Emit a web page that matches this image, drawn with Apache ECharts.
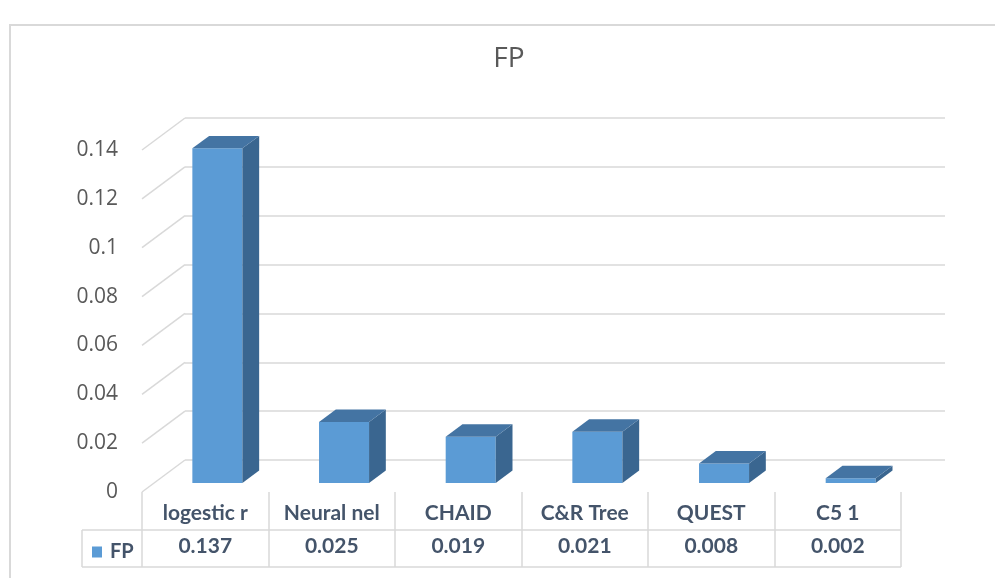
<!DOCTYPE html>
<html><head><meta charset="utf-8">
<script src="https://cdn.jsdelivr.net/npm/echarts@6/dist/echarts.min.js"></script>
<style>html,body{margin:0;padding:0;background:#fff}#c{width:995px;height:578px}</style>
</head><body><div id="c"></div>
<script>
var categories = ['logestic r', 'Neural nel', 'CHAID', 'C&R Tree', 'QUEST', 'C5 1'];
var fpValues = [0.137, 0.025, 0.019, 0.021, 0.008, 0.002];
var yTicks = [0, 0.02, 0.04, 0.06, 0.08, 0.1, 0.12, 0.14];
var seriesName = 'FP';

var DX = 43, DY = 32;          // floor depth vector (back -> front)
var FRONT = 0.72, BACK = 0.33; // bar depth fractions
var chart = echarts.init(document.getElementById('c'));
var tableFont = 'Lato, "Open Sans", sans-serif';

function renderBar(params, api) {
  var i = api.value(0), v = api.value(1);
  var top = api.coord([i, v]), base = api.coord([i, 0]);
  var band = api.size([1, 0])[0];
  var w = band * 0.395;
  var fx = -DX * FRONT, fy = DY * FRONT;
  var sx = DX * (FRONT - BACK), sy = DY * (FRONT - BACK);
  var x0 = top[0] + fx - w / 2, x1 = x0 + w;
  var yt = top[1] + fy, yb = base[1] + fy;
  return {
    type: 'group',
    children: [
      { type: 'rect', shape: { x: x0, y: yt, width: w, height: yb - yt },
        style: { fill: '#5B9BD5' } },
      { type: 'polygon', shape: { points: [[x1, yt], [x1 + sx, yt - sy], [x1 + sx, yb - sy], [x1, yb]] },
        style: { fill: '#3A6690' } },
      { type: 'polygon', shape: { points: [[x0, yt], [x1, yt], [x1 + sx, yt - sy], [x0 + sx, yt - sy]] },
        style: { fill: '#4474A3' } }
    ]
  };
}

function renderSideLine(params, api) {
  var cs = params.coordSys;
  var p = api.coord([0, api.value(1)]);
  return { type: 'line', shape: { x1: cs.x, y1: p[1], x2: cs.x - DX, y2: p[1] + DY },
    style: { stroke: '#D9D9D9', lineWidth: 1.5 } };
}

var option = {
  animation: false,
  backgroundColor: '#fff',
  title: { text: 'FP', left: 504, top: 40, textAlign: 'center',
    textStyle: { fontSize: 28, fontWeight: 'normal', color: '#595959', fontFamily: '"Open Sans", sans-serif' } },
  legend: { data: [seriesName], left: 87, top: 537, icon: 'rect', itemWidth: 10, itemHeight: 11,
    textStyle: { fontSize: 20, fontWeight: 'bold', color: '#44546A', fontFamily: tableFont, padding: [0, 0, 0, 3] } },
  graphic: [
    { type: 'rect', shape: { x: 10, y: 25, width: 1000, height: 600 }, style: { fill: 'none', stroke: '#D9D9D9', lineWidth: 2 }, silent: true },
    { type: 'line', shape: { x1: 82, y1: 530, x2: 901, y2: 530 }, style: { stroke: '#D9D9D9', lineWidth: 1.5 } },
    { type: 'line', shape: { x1: 82, y1: 567, x2: 901, y2: 567 }, style: { stroke: '#D9D9D9', lineWidth: 1.5 } },
    { type: 'line', shape: { x1: 82, y1: 530, x2: 82, y2: 567 }, style: { stroke: '#D9D9D9', lineWidth: 1.5 } }
  ],
  grid: [
    { left: 142, right: 94, top: 150, bottom: 86 },   // front (labels + table)
    { left: 185, right: 50, top: 118, bottom: 118 }   // back wall
  ],
  xAxis: [
    { type: 'category', gridIndex: 0, data: categories,
      axisLine: { show: false },
      axisTick: { show: true, length: 75, lineStyle: { color: '#D9D9D9', width: 1.5 } },
      axisLabel: { margin: 11, fontSize: 21, fontWeight: 'bold', color: '#44546A', fontFamily: tableFont, interval: 0 } },
    { type: 'category', gridIndex: 0, position: 'bottom', offset: 33,
      data: fpValues.map(function (v) { return v.toFixed(3); }),
      axisLine: { show: false }, axisTick: { show: false },
      axisLabel: { margin: 11, fontSize: 21, fontWeight: 'bold', color: '#44546A', fontFamily: tableFont, interval: 0 } },
    { type: 'category', gridIndex: 1, data: categories, show: false }
  ],
  yAxis: [
    { type: 'value', gridIndex: 0, min: 0, max: 0.14, interval: 0.02,
      axisLine: { show: false }, axisTick: { show: false }, splitLine: { show: false },
      axisLabel: { margin: 24, fontSize: 21, color: '#595959', fontFamily: '"Open Sans", sans-serif' } },
    { type: 'value', gridIndex: 1, min: 0, max: 0.14, interval: 0.02,
      axisLine: { show: false }, axisTick: { show: false }, axisLabel: { show: false },
      splitLine: { lineStyle: { color: '#D9D9D9', width: 1.5 } } }
  ],
  series: [
    { type: 'custom', name: 'walls', xAxisIndex: 2, yAxisIndex: 1, silent: true,
      renderItem: renderSideLine, data: yTicks.map(function (t) { return [0, t]; }) },
    { type: 'custom', name: seriesName, xAxisIndex: 2, yAxisIndex: 1,
      itemStyle: { color: '#5B9BD5' },
      renderItem: renderBar, data: fpValues.map(function (v, i) { return [i, v]; }) }
  ]
};
chart.setOption(option);
</script></body></html>
